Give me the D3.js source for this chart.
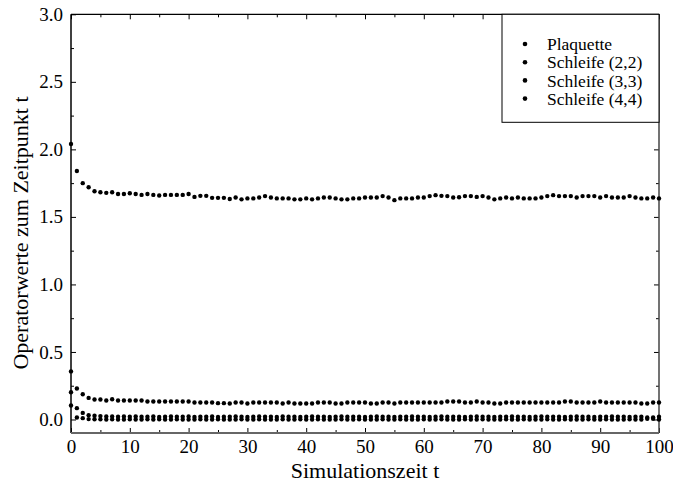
<!DOCTYPE html>
<html>
<head>
<meta charset="utf-8">
<script src="https://cdn.jsdelivr.net/npm/d3@7"></script>
<style>
  body { margin: 0; background: #fff; }
  svg text { font-family: "Liberation Serif", "Times New Roman", serif; fill: #000; }
</style>
</head>
<body>
<svg id="chart" width="673" height="485"></svg>
<script>
// Measured operator values per simulation time step t = 0 .. 100
const plaquette = [
  2.04, 1.84, 1.75, 1.72, 1.69, 1.683, 1.678, 1.683, 1.670, 1.670,
  1.675, 1.670, 1.663, 1.670, 1.663, 1.658, 1.663, 1.663, 1.663, 1.663,
  1.670, 1.648, 1.656, 1.656, 1.641, 1.641, 1.641, 1.632, 1.644, 1.630,
  1.637, 1.637, 1.644, 1.654, 1.644, 1.637, 1.637, 1.637, 1.630, 1.630,
  1.637, 1.630, 1.637, 1.644, 1.644, 1.637, 1.630, 1.630, 1.637, 1.637,
  1.644, 1.644, 1.644, 1.654, 1.644, 1.624, 1.637, 1.637, 1.637, 1.644,
  1.644, 1.654, 1.661, 1.656, 1.654, 1.644, 1.646, 1.654, 1.654, 1.648,
  1.654, 1.644, 1.630, 1.637, 1.644, 1.637, 1.644, 1.637, 1.637, 1.637,
  1.644, 1.654, 1.661, 1.654, 1.654, 1.654, 1.644, 1.654, 1.654, 1.654,
  1.644, 1.654, 1.644, 1.644, 1.644, 1.654, 1.644, 1.637, 1.637, 1.644,
  1.637
];
const loop22 = [
  0.356, 0.230, 0.187, 0.160, 0.148, 0.148, 0.141, 0.150, 0.141, 0.141,
  0.141, 0.141, 0.141, 0.133, 0.133, 0.133, 0.133, 0.133, 0.133, 0.133,
  0.133, 0.126, 0.126, 0.126, 0.126, 0.121, 0.121, 0.118, 0.126, 0.126,
  0.118, 0.126, 0.126, 0.126, 0.126, 0.126, 0.118, 0.126, 0.118, 0.118,
  0.118, 0.118, 0.126, 0.126, 0.126, 0.118, 0.118, 0.126, 0.126, 0.126,
  0.126, 0.118, 0.118, 0.126, 0.126, 0.118, 0.126, 0.126, 0.126, 0.126,
  0.126, 0.126, 0.126, 0.126, 0.133, 0.133, 0.133, 0.126, 0.126, 0.133,
  0.126, 0.126, 0.118, 0.118, 0.126, 0.126, 0.126, 0.126, 0.126, 0.126,
  0.126, 0.126, 0.126, 0.126, 0.133, 0.133, 0.126, 0.126, 0.126, 0.126,
  0.133, 0.126, 0.126, 0.126, 0.126, 0.126, 0.126, 0.118, 0.118, 0.126,
  0.126
];
const loop33 = [
  0.202, 0.084, 0.049, 0.032, 0.028, 0.025, 0.022, 0.022, 0.020, 0.022,
  0.020, 0.022, 0.020, 0.020, 0.022, 0.018, 0.020, 0.022, 0.020, 0.020,
  0.022, 0.018, 0.020, 0.020, 0.022, 0.018, 0.020, 0.020, 0.022, 0.020,
  0.018, 0.020, 0.022, 0.020, 0.020, 0.018, 0.022, 0.020, 0.020, 0.018,
  0.020, 0.022, 0.020, 0.020, 0.018, 0.020, 0.022, 0.020, 0.020, 0.020,
  0.018, 0.020, 0.022, 0.020, 0.020, 0.018, 0.020, 0.020, 0.022, 0.020,
  0.020, 0.018, 0.020, 0.022, 0.020, 0.020, 0.020, 0.018, 0.020, 0.022,
  0.020, 0.020, 0.018, 0.020, 0.020, 0.022, 0.020, 0.020, 0.018, 0.020,
  0.022, 0.020, 0.020, 0.020, 0.018, 0.020, 0.022, 0.020, 0.020, 0.018,
  0.020, 0.020, 0.022, 0.020, 0.020, 0.018, 0.020, 0.020, 0.015, 0.015,
  0.020
];
const loop44 = [
  0.104, 0.015, 0.010, 0.003, 0.002, 0.001, 0.000, 0.001, 0.000, 0.000,
  0.001, 0.000, 0.000, 0.001, 0.000, 0.002, 0.000, 0.000, 0.001, 0.000,
  0.000, 0.000, 0.001, 0.000, 0.000, 0.001, 0.000, 0.000, 0.000, 0.001,
  0.000, 0.000, 0.001, 0.000, 0.000, 0.000, 0.001, 0.000, 0.000, 0.001,
  0.000, 0.000, 0.001, 0.000, 0.000, 0.000, 0.001, 0.000, 0.000, 0.001,
  0.000, 0.000, 0.000, 0.001, 0.000, 0.000, 0.001, 0.000, 0.000, 0.000,
  0.001, 0.000, 0.000, 0.001, 0.000, 0.000, 0.000, 0.001, 0.000, 0.000,
  0.001, 0.000, 0.000, 0.000, 0.001, 0.000, 0.000, 0.001, 0.000, 0.000,
  0.000, 0.001, 0.000, 0.000, 0.001, 0.000, 0.000, 0.000, 0.001, 0.000,
  0.000, 0.001, 0.000, 0.000, 0.000, 0.001, 0.000, 0.000, 0.005, 0.005,
  0.000
];
const seriesNames = ["Plaquette", "Schleife (2,2)", "Schleife (3,3)", "Schleife (4,4)"];
const xTicks = [0, 10, 20, 30, 40, 50, 60, 70, 80, 90, 100];
const xMinorTicks = [5, 15, 25, 35, 45, 55, 65, 75, 85, 95];
const yTicks = [0, 0.5, 1.0, 1.5, 2.0, 2.5, 3.0];
const yMinorTicks = [0.25, 0.75, 1.25, 1.75, 2.25, 2.75];
const xTitle = "Simulationszeit t";
const yTitle = "Operatorwerte zum Zeitpunkt t";

const allSeries = [plaquette, loop22, loop33, loop44];

const svg = d3.select("#chart");
const plotLeft = 71, plotRight = 659, plotTop = 14.3, plotBottom = 433;
const serif = '"Liberation Serif", "Times New Roman", serif';

const x = d3.scaleLinear().domain([0, 100]).range([plotLeft, plotRight]);
const y = d3.scaleLinear().domain([-0.1, 3.0]).range([plotBottom, plotTop]);

// Axes with inward ticks on all four sides
function styleAxis(g) {
  g.attr("font-family", serif).attr("font-size", 19);
  g.select(".domain").remove();
  g.selectAll("line").attr("stroke", "#000").attr("stroke-width", 1);
  g.selectAll("text").attr("fill", "#000");
}

svg.append("g").attr("transform", `translate(0,${plotBottom})`)
  .call(d3.axisBottom(x).tickValues(xTicks).tickSize(-5).tickSizeOuter(0).tickPadding(7).tickFormat(d3.format("d")))
  .call(styleAxis);
svg.append("g").attr("transform", `translate(0,${plotBottom})`)
  .call(d3.axisBottom(x).tickValues(xMinorTicks).tickSize(-3).tickSizeOuter(0).tickFormat(""))
  .call(styleAxis);
svg.append("g").attr("transform", `translate(0,${plotTop})`)
  .call(d3.axisTop(x).tickValues(xTicks).tickSize(-5).tickSizeOuter(0).tickFormat(""))
  .call(styleAxis);
svg.append("g").attr("transform", `translate(0,${plotTop})`)
  .call(d3.axisTop(x).tickValues(xMinorTicks).tickSize(-3).tickSizeOuter(0).tickFormat(""))
  .call(styleAxis);

svg.append("g").attr("transform", `translate(${plotLeft},0)`)
  .call(d3.axisLeft(y).tickValues(yTicks).tickSize(-5).tickSizeOuter(0).tickPadding(8).tickFormat(d3.format(".1f")))
  .call(styleAxis);
svg.append("g").attr("transform", `translate(${plotLeft},0)`)
  .call(d3.axisLeft(y).tickValues(yMinorTicks).tickSize(-3).tickSizeOuter(0).tickFormat(""))
  .call(styleAxis);
svg.append("g").attr("transform", `translate(${plotRight},0)`)
  .call(d3.axisRight(y).tickValues(yTicks).tickSize(-5).tickSizeOuter(0).tickFormat(""))
  .call(styleAxis);
svg.append("g").attr("transform", `translate(${plotRight},0)`)
  .call(d3.axisRight(y).tickValues(yMinorTicks).tickSize(-3).tickSizeOuter(0).tickFormat(""))
  .call(styleAxis);

// Frame
svg.append("line").attr("x1", plotLeft).attr("x2", plotRight).attr("y1", plotTop).attr("y2", plotTop).attr("stroke", "#000").attr("stroke-width", 1.2);
svg.append("line").attr("x1", plotRight).attr("x2", plotRight).attr("y1", plotTop).attr("y2", plotBottom).attr("stroke", "#444").attr("stroke-width", 1.5);
svg.append("line").attr("x1", plotLeft).attr("x2", plotLeft).attr("y1", plotTop).attr("y2", plotBottom).attr("stroke", "#000").attr("stroke-width", 1.5);
svg.append("line").attr("x1", plotLeft).attr("x2", plotRight).attr("y1", plotBottom).attr("y2", plotBottom).attr("stroke", "#666").attr("stroke-width", 2);

// Data points
const points = svg.append("g");
allSeries.forEach((values) => {
  points.append("g").selectAll("circle")
    .data(values)
    .join("circle")
    .attr("cx", (d, i) => x(i))
    .attr("cy", d => y(d))
    .attr("r", 2.2)
    .attr("fill", "#000");
});

// Legend
const lgX = 502, lgW = plotRight - 502, lgH = 108;
const legend = svg.append("g");
legend.append("rect").attr("x", lgX).attr("y", plotTop).attr("width", lgW).attr("height", lgH)
  .attr("fill", "#fff").attr("stroke", "#000").attr("stroke-width", 1);
seriesNames.forEach((name, i) => {
  const cy = 44 + i * 18.2;
  legend.append("circle").attr("cx", 525).attr("cy", cy).attr("r", 2.3).attr("fill", "#000");
  legend.append("text").attr("x", 547).attr("y", cy).attr("dy", "0.35em")
    .attr("font-family", serif).attr("font-size", 17.5).text(name);
});

// Axis titles
svg.append("text").attr("x", (plotLeft + plotRight) / 2).attr("y", 478)
  .attr("text-anchor", "middle").attr("font-family", serif).attr("font-size", 22).text(xTitle);
svg.append("text").attr("transform", "translate(28,233) rotate(-90)")
  .attr("text-anchor", "middle").attr("font-family", serif).attr("font-size", 22).text(yTitle);
</script>
</body>
</html>
